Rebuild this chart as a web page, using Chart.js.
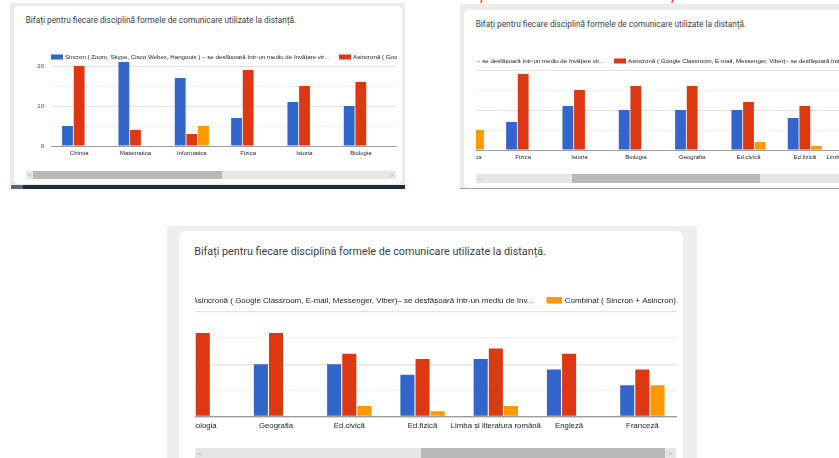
<!DOCTYPE html>
<html><head><meta charset="utf-8">
<script src="https://cdn.jsdelivr.net/npm/chart.js@4.4.1/dist/chart.umd.min.js"></script>
<style>
html,body{margin:0;padding:0;background:#fff;width:839px;height:458px;overflow:hidden;position:relative}
.box{position:absolute}
.card{position:absolute;background:#fff;overflow:hidden}
.title{position:absolute;white-space:nowrap;color:#3c4043;font-family:Roboto,'Noto Sans',sans-serif}
.vp{position:absolute;overflow:hidden}
.vp canvas{position:absolute;top:0}
.track{position:absolute;background:#e6e6e6}
.thumb{position:absolute;background:#b9b9b9;top:0;bottom:0}
.arr{position:absolute;color:#b3b3b3;font-family:'Liberation Sans',Arial,sans-serif;line-height:1;top:0}
.red{position:absolute;color:#e53935;font-family:Roboto,sans-serif;font-size:16px;line-height:16px;top:-14px}
</style></head><body>
<script>
// ---- data ----
const subjects = ["Chimia","Matematica","Informatica","Fizica","Istoria","Biologia","Geografia","Ed.civică","Ed.fizică","Limba și literatura română","Engleză","Franceză"];
const sincron  = [5, 21, 17, 7, 11, 10, 10, 10, 8, 11, 9, 6];
const asincron = [20, 4, 3, 19, 15, 16, 16, 12, 11, 13, 12, 9];
const combinat = [0, 0, 5, 0, 0, 0, 0, 2, 1, 2, 0, 6];
const seriesNames = [
  "Sincron ( Zoom, Skype, Cisco Webex, Hangouts ) – se desfășoară într-un mediu de învățare vir...",
  "Asincronă ( Google Classroom, E-mail, Messenger, Viber)– se desfășoară într-un mediu de înv...",
  "Combinat ( Sincron + Asincron)"
];
const yTicks = [0, 5, 10, 15, 20];
const yLabelTicks = [0, 10, 20];
const questionTitle = "Bifați pentru fiecare disciplină formele de comunicare utilizate la distanță.";

// ---- styling / layout ----
const COLORS = ['#3366cc', '#dc3912', '#ff9900'];
const FONT = "'Liberation Sans', Arial, sans-serif";
const PANELS = [
  {s: 1,   x: 14,  y: 6,   cardTop: 6,   scroll: 0},
  {s: 1,   x: 464, y: 9.5, cardTop: 9.5, scroll: 175},
  {s: 1.3, x: 179, y: 234, cardTop: 231, scroll: 329}
];
const CONTENT_W = 702, VIEW_W = 372;

function box(parent, cls, st) {
  const d = document.createElement('div');
  if (cls) d.className = cls;
  for (const k in st) d.style[k] = (typeof st[k] === 'number') ? st[k] + 'px' : st[k];
  parent.appendChild(d);
  return d;
}

// frames
const B = document.body;
box(B, 'box', {left: 10, top: 3, width: 395, height: 182, background: '#ebebeb'});
box(B, 'box', {left: 11, top: 185, width: 394, height: 4, background: '#1f2d3a'});
box(B, 'box', {left: 11, top: 185, width: 12, height: 4, background: '#5d6b78'});
box(B, 'box', {left: 460, top: 4, width: 379, height: 184, background: '#ececec'});
box(B, 'box', {left: 460, top: 187.5, width: 379, height: 1.3, background: '#9aa0a6'});
box(B, 'box', {left: 167, top: 226, width: 530, height: 232, background: '#eeeeec'});
const redClip = box(B, 'box', {left: 0, top: 0, width: 839, height: 4, overflow: 'hidden'});
[478, 669].forEach(x => { const r = box(redClip, 'red', {left: x}); r.textContent = 'ț'; });

const legendPlugin = {
  id: 'gLegend',
  afterDraw(chart, args, opts) {
    const {ctx, chartArea} = chart;
    const s = opts.s;
    ctx.save();
    ctx.font = (6.15 * s) + 'px ' + FONT;
    ctx.textBaseline = 'middle';
    let x = chartArea.left;
    const y = opts.y;
    chart.data.datasets.forEach(ds => {
      ctx.fillStyle = ds.backgroundColor;
      ctx.fillRect(x, y - 2.5 * s, 12 * s, 5 * s);
      ctx.fillStyle = '#222';
      ctx.fillText(ds.label, x + 14 * s, y);
      x += 14 * s + ctx.measureText(ds.label).width + 10 * s;
    });
    ctx.restore();
  }
};

PANELS.forEach(p => {
  const s = p.s;
  const off = p.y - p.cardTop;
  const card = box(B, 'card', {left: p.x, top: p.cardTop, width: 388 * s, height: 178 * s + off, borderRadius: 5 * s});
  const t = box(card, 'title', {left: 11.7 * s, top: 10.1 * s + off, fontSize: 8.3 * s, lineHeight: 8.3 * s});
  t.textContent = questionTitle;
  const vp = box(card, 'vp', {left: 12 * s, top: 40 * s + off, width: (VIEW_W - 1) * s, height: 115 * s});
  const cv = document.createElement('canvas');
  cv.width = Math.round(CONTENT_W * s);
  cv.height = Math.round(115 * s);
  cv.style.left = ((-p.scroll - 1) * s) + 'px';
  vp.appendChild(cv);
  // scrollbar
  const tr = box(card, 'track', {left: 12 * s, top: 164.7 * s + off, width: 370 * s, height: 8.6 * s});
  const inner = 355.4, thumbW = inner * VIEW_W / CONTENT_W;
  const tl = 7.3 + (p.scroll / (CONTENT_W - VIEW_W)) * (inner - thumbW);
  box(tr, 'thumb', {left: tl * s, width: thumbW * s});
  const a1 = box(tr, 'arr', {left: 2 * s, fontSize: 6 * s, top: 1.5 * s}); a1.textContent = '<';
  const a2 = box(tr, 'arr', {left: 364 * s, fontSize: 6 * s, top: 1.5 * s}); a2.textContent = '>';

  new Chart(cv, {
    type: 'bar',
    data: {
      labels: subjects,
      datasets: [
        {label: seriesNames[0], data: sincron, backgroundColor: COLORS[0]},
        {label: seriesNames[1], data: asincron, backgroundColor: COLORS[1]},
        {label: seriesNames[2], data: combinat, backgroundColor: COLORS[2]}
      ]
    },
    options: {
      responsive: false, animation: false, devicePixelRatio: 1,
      layout: {padding: {top: 16 * s, left: 0, right: 0, bottom: 0}},
      datasets: {bar: {categoryPercentage: 0.62, barPercentage: 0.93}},
      plugins: {legend: {display: false}, tooltip: {enabled: false}, gLegend: {s: s, y: 11 * s}},
      scales: {
        x: {
          grid: {display: false, drawTicks: false},
          border: {display: true, color: '#9e9e9e', width: s},
          ticks: {font: {family: FONT, size: 6 * s}, color: '#222', padding: 3.4 * s, maxRotation: 0, minRotation: 0, autoSkip: false},
          afterFit(sc) { sc.height = 15 * s; }
        },
        y: {
          min: 0, max: 21,
          afterBuildTicks(sc) { sc.ticks = yTicks.map(v => ({value: v})); },
          grid: {drawTicks: false, lineWidth: s,
            color(c) { const v = c.tick && c.tick.value; return v === 0 ? '#9e9e9e' : (v % 10 === 0 ? '#e2e2e2' : '#f2f2f2'); }},
          border: {display: false},
          ticks: {font: {family: FONT, size: 6 * s}, color: '#444', padding: 7 * s,
            callback: v => yLabelTicks.includes(v) ? String(v) : ''},
          afterFit(sc) { sc.width = 26 * s; }
        }
      }
    },
    plugins: [legendPlugin]
  });
});
</script>
</body></html>
